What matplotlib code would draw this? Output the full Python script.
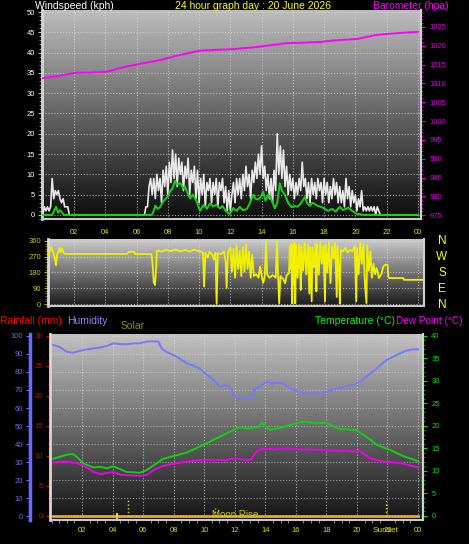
import numpy as np
import matplotlib
matplotlib.use('Agg')
import matplotlib.pyplot as plt
from matplotlib.ticker import MultipleLocator

plt.rcParams['font.family'] = ['Liberation Sans', 'DejaVu Sans']

# ---------------- data ----------------
hour_ticks = [2, 4, 6, 8, 10, 12, 14, 16, 18, 20, 22, 24]
hour_labels = ['02', '04', '06', '08', '10', '12', '14', '16', '18', '20', '22', '00']

# barometer (hPa)
baro_hours = [0, 1, 2.07, 3, 3.66, 4.1, 4.94, 5.5, 6.22, 7.5, 8.5, 10.06, 11, 12.17,
              13.5, 14.5, 15.62, 16.5, 17.73, 18.56, 19.3, 20.1, 21.37, 22.2, 22.84, 24]
baro_vals = [1011.4, 1012.0, 1012.8, 1012.9, 1013.0, 1013.1, 1014.1, 1014.6, 1015.2,
             1016.2, 1017.3, 1018.7, 1018.9, 1019.1, 1019.6, 1020.1, 1020.7, 1020.8,
             1021.0, 1021.4, 1021.6, 1021.8, 1022.9, 1023.2, 1023.4, 1023.7]

# wind gust (kph), every 6 minutes
gust_hours = np.arange(0, 24.05, 0.1)
gust_early = [0, 2, 1, 2, 1, 2, 9, 4, 6, 5, 6, 4, 3, 4, 2, 2, 2]          # 00:00-01:36
gust_quiet = 49                                                          # 01:42-06:30 calm
gust_day = [2, 2, 7, 9,                                                  # 06:36-
            5, 9, 4, 10, 6, 9, 3, 11, 7, 12,
            5, 13, 8, 16, 9, 15, 7, 14, 10, 13,
            6, 12, 9, 14, 5, 11, 8, 12, 4, 11,
            3, 9, 5, 10, 2, 8, 6, 9, 3, 8,
            5, 9, 2, 8, 6, 9, 3, 7, 1, 6,
            1, 5, 8, 3, 9, 5, 9, 4, 10, 6,
            12, 7, 10, 4, 11, 8, 13, 9, 15, 10,
            17, 9, 12, 6, 10, 4, 9, 3, 11, 6,
            20, 10, 17, 9, 16, 7, 12, 5, 10, 6,
            9, 4, 8, 5, 9, 6, 13, 7, 9, 4,
            8, 3, 9, 5, 8, 4, 9, 6, 8, 3,
            9, 5, 8, 3, 7, 4, 9, 5, 8, 3,
            7, 3, 6, 2, 9, 4, 7, 2, 6, 3,
            5, 1, 4, 2, 6, 1, 2, 1, 2, 1,
            2, 1, 2, 0, 2, 1, 0, 0, 0, 0,
            0]
gust_vals = np.concatenate([gust_early, np.zeros(gust_quiet), gust_day,
                            np.zeros(len(gust_hours) - len(gust_early) - gust_quiet - len(gust_day))])

# average wind speed (kph)
avg_hours = [0, 0.6, 0.85, 1.0, 1.1, 1.2, 1.35,
             6.95, 7.05, 7.2, 7.35, 7.5, 7.65, 7.82, 8.0, 8.14, 8.3,
             8.46, 8.6, 8.8, 9.0, 9.1, 9.25, 9.42, 9.6, 9.85, 10.06,
             10.3, 10.5, 10.7, 10.91, 11.1, 11.34, 11.5, 11.7, 11.97, 12.19,
             12.4, 12.6, 12.8, 13.04, 13.2, 13.47, 13.6, 13.79, 13.95, 14.1,
             14.25, 14.43, 14.6, 14.85, 15.0, 15.17, 15.3, 15.49, 15.7, 15.92,
             16.1, 16.3, 16.5, 16.77, 16.9, 17.09, 17.25, 17.41, 17.6, 17.8,
             18.0, 18.26, 18.5, 18.75, 19.0, 19.2, 19.54, 19.8, 20.08, 20.3,
             20.5, 24]
avg_vals = [0, 0, 2.0, 0.5, 1.2, 0.8, 0,
            0, 0.5, 2.3, 1.5, 1.9, 3.0, 3.8, 4.5, 5.8, 6.5,
            8.4, 7.5, 7.8, 6.5, 7.0, 5.5, 4.1, 5.0, 3.3, 1.0,
            2.5, 1.5, 2.8, 2.1, 2.5, 1.6, 2.2, 1.0, 0.2, 1.7,
            1.0, 2.0, 1.2, 1.4, 2.5, 5.0, 4.0, 3.8, 4.5, 5.8,
            3.5, 5.0, 4.0, 1.6, 3.0, 7.8, 6.0, 5.0, 3.0, 1.9,
            2.2, 2.0, 2.8, 4.4, 3.0, 2.2, 3.0, 2.7, 2.2, 2.0,
            1.6, 1.0, 1.5, 0.8, 2.0, 1.2, 1.8, 1.0, 0.3, 0.2,
            0, 0]

# wind direction (degrees)
dir_hours = [0.35, 0.45, 0.55, 0.62, 0.7, 0.8, 0.85, 0.92, 1.0, 1.08, 1.15, 1.25, 1.35, 1.45,
             5.4, 5.5, 5.85, 5.9, 6.95, 7.0, 7.05, 7.1, 7.18, 7.25, 7.3,
             7.6, 7.9, 8.2, 8.5, 8.8, 9.1, 9.4, 9.7, 10.0, 10.25, 10.32, 10.4,
             10.55, 10.65, 10.85, 10.95, 11.05, 11.12, 11.2, 11.4, 11.6, 11.7, 11.76, 11.85,
             12.0, 12.1, 12.2, 12.3, 12.4, 12.5, 12.6, 12.7, 12.8, 12.9, 13.0, 13.1,
             13.2, 13.3, 13.4, 13.5, 13.65, 13.8, 13.9, 14.0, 14.1, 14.2, 14.28, 14.35,
             14.5, 14.7, 14.9, 14.98, 15.05, 15.12, 15.2, 15.4, 15.5, 15.6, 15.75,
             15.8, 15.85, 15.9, 15.95, 16.0, 16.05, 16.1, 16.15, 16.2, 16.3, 16.4, 16.45,
             16.5, 16.55, 16.65, 16.75, 16.85, 16.95, 17.05, 17.1, 17.2, 17.25, 17.35,
             17.45, 17.5, 17.55, 17.65, 17.75, 17.85, 17.95, 18.05, 18.1, 18.2, 18.3,
             18.4, 18.5, 18.6, 18.7, 18.8, 18.85, 18.95, 19.0, 19.05, 19.2, 19.35, 19.5,
             19.65, 19.8, 19.95, 20.05, 20.1, 20.2, 20.3, 20.4, 20.5, 20.6, 20.7, 20.75,
             20.85, 20.95, 21.05, 21.15, 21.25, 21.35, 21.5, 21.65, 21.78, 21.9, 22.05,
             22.1, 22.15, 23.05, 23.1, 24.3]
dir_vals = [280, 300, 325, 305, 290, 250, 222, 280, 300, 320, 295, 315, 290, 286,
            286, 298, 298, 285, 285, 250, 200, 125, 108, 200, 305,
            300, 310, 302, 310, 300, 308, 300, 310, 302, 295, 100, 292,
            265, 300, 280, 255, 292, 2, 290, 285, 300, 240, 92, 300,
            320, 185, 315, 150, 335, 200, 305, 160, 325, 185, 340, 200,
            300, 150, 280, 160, 170, 150, 215, 160, 120, 160, 355, 170,
            150, 165, 150, 355, 160, 3, 160, 140, 118, 165, 175,
            330, 200, 345, 3, 330, 110, 350, 3, 335, 150, 340, 240,
            80, 330, 190, 350, 170, 340, 60, 325, 15, 320, 210,
            350, 72, 340, 167, 355, 230, 330, 15, 340, 180, 355,
            120, 330, 260, 350, 40, 330, 150, 2, 310, 300, 320, 295,
            310, 300, 330, 15, 320, 170, 350, 230, 340, 120, 5, 335,
            190, 300, 150, 230, 170, 205, 148, 170, 214, 224, 224,
            157, 148, 148, 138, 138]

# humidity (%)
hum_hours = [0.1, 0.5, 0.98, 1.4, 2.08, 2.74, 3.2, 3.6, 4.05, 4.5, 4.9, 5.4, 5.8, 6.23,
             6.6, 7.0, 7.2, 7.5, 8.2, 8.85, 9.3, 9.7, 10.1, 10.6, 11.03, 11.3, 11.69,
             12.0, 12.3, 12.56, 12.8, 13.1, 13.3, 13.6, 14.09, 14.5, 14.8, 15.2, 15.4,
             15.83, 16.3, 16.9, 17.57, 18.0, 18.45, 18.9, 19.3, 19.8, 20.2, 20.63, 21.3,
             21.95, 22.6, 23.2, 23.6, 24.0]
hum_vals = [95.0, 94.0, 91.3, 90.7, 92.2, 93.1, 93.6, 94.4, 95.9, 95.5, 95.4, 95.9, 96.0,
            96.9, 97.0, 96.9, 93.1, 91.3, 88.5, 84.8, 83.5, 82.0, 79.0, 75.6, 71.9, 72.5,
            71.9, 66.3, 66.0, 65.4, 65.8, 65.4, 70.9, 71.5, 74.6, 73.7, 74.0, 73.7, 71.9,
            70.0, 69.0, 67.8, 68.3, 69.0, 70.4, 71.0, 72.2, 73.0, 74.6, 77.4, 82.0,
            86.7, 89.4, 91.8, 92.5, 92.6]

# temperature and dew point (C)
temp_hours = [0.1, 0.98, 1.4, 1.7, 2.08, 2.74, 3.2, 3.6, 4.05, 4.5, 4.9, 5.8, 6.23, 6.88,
              7.3, 7.98, 8.85, 9.7, 10.6, 11.25, 11.9, 12.34, 12.78, 13.2, 13.5, 13.8,
              14.3, 15.2, 15.8, 16.5, 17.35, 18.0, 18.9, 19.96, 20.63, 21.3, 22.17, 23.04, 24.0]
temp_vals = [12.7, 13.6, 13.8, 13.0, 11.7, 10.8, 10.9, 10.6, 11.0, 10.4, 9.8, 9.6, 10.2,
             11.7, 12.7, 13.3, 14.1, 15.4, 16.9, 18.0, 19.1, 19.8, 19.4, 19.6, 19.8, 20.7,
             19.1, 19.8, 20.4, 21.0, 20.6, 20.7, 19.3, 19.1, 17.6, 15.8, 14.7, 13.3, 12.2]
dew_hours = [0.1, 0.98, 1.6, 2.08, 2.74, 3.2, 4.05, 4.5, 4.9, 5.8, 6.23, 6.88, 7.5, 7.98,
             8.85, 9.7, 10.6, 11.47, 11.7, 12.34, 12.8, 13.1, 13.4, 13.8, 14.5, 15.4,
             16.2, 17.6, 18.45, 19.3, 19.96, 20.2, 20.85, 21.74, 22.8, 24.0]
dew_vals = [11.9, 12.1, 11.8, 11.3, 9.8, 9.3, 9.8, 9.2, 9.1, 8.9, 9.1, 10.6, 11.3, 11.6,
            12.1, 12.4, 12.5, 12.4, 12.7, 12.7, 12.4, 12.6, 14.3, 15.0, 14.8, 15.0,
            14.8, 14.7, 14.5, 14.5, 14.3, 14.5, 12.8, 12.1, 11.8, 10.8]

# rainfall (mm)
rain_hours = [0.1, 24.0]
rain_vals = [0, 0]

# sun / moon events
sun_hours = [5.03, 21.9]
moon_hours = [10.7]
solar_tick_hours = [4.27]

# ---------------- figure ----------------
W, H = 469, 544
fig = plt.figure(figsize=(W / 100, H / 100), dpi=100, facecolor='black')


def box(x0, y0, x1, y1):
    return [x0 / W, 1 - y1 / H, (x1 - x0) / W, (y1 - y0) / H]


def shade(ax, top, bottom):
    grad = np.linspace(top, bottom, 256).reshape(-1, 1)
    ax.imshow(grad, cmap='gray', vmin=0, vmax=1, aspect='auto', extent=[0, 1, 0, 1],
              transform=ax.transAxes, zorder=0, interpolation='bilinear')


def label(x, y, s, color, size=7.5, ha='left'):
    fig.text(x / W, 1 - y / H, s, color=color, fontsize=size, ha=ha, va='center')


def frame(ax):
    ax.set_facecolor('black')
    ax.spines['top'].set_visible(False)
    ax.spines['left'].set_color('#d8d8d8')
    ax.spines['left'].set_linewidth(2)
    ax.spines['bottom'].set_color('#c8c8c8')
    ax.spines['bottom'].set_linewidth(1.5)
    ax.spines['right'].set_color('#d0d0d0')
    ax.spines['right'].set_linewidth(1.5)
    ax.grid(True, which='major', color='#dcdcdc', ls=':', lw=0.8, alpha=0.7)


# ---- top: wind speed + barometer ----
ax1 = fig.add_axes(box(42, 10, 421, 219))
frame(ax1)
shade(ax1, 0.74, 0.05)
ax1.plot(gust_hours, gust_vals, color='#e8e8e8', lw=1.2, zorder=3)
ax1.plot(avg_hours, avg_vals, color='#14d214', lw=1.4, zorder=4)
ax1.set_xlim(-0.05, 24.2)
ax1.set_ylim(-1, 50.5)
ax1.set_xticks(hour_ticks)
ax1.set_xticklabels(hour_labels)
ax1.yaxis.set_major_locator(MultipleLocator(5))
ax1.yaxis.set_minor_locator(MultipleLocator(1))
ax1.tick_params(axis='x', colors='#e0e000', length=0, pad=7, labelsize=5.5)
ax1.tick_params(axis='y', which='major', colors='#b0b0b0', labelcolor='white',
                length=3, pad=2, labelsize=5.5)
ax1.tick_params(axis='y', which='minor', colors='#909090', length=2)

ax1b = ax1.twinx()
for side in ['left', 'top', 'bottom']:
    ax1b.spines[side].set_visible(False)
ax1b.spines['right'].set_color('#d0d0d0')
ax1b.spines['right'].set_linewidth(1.5)
ax1b.plot(baro_hours, baro_vals, color='#ff00ff', lw=1.4, zorder=5)
ax1b.set_ylim(974, 1029.5)
ax1b.yaxis.set_major_locator(MultipleLocator(5))
ax1b.yaxis.set_minor_locator(MultipleLocator(1))
ax1b.tick_params(axis='y', which='major', colors='#e000e0', length=3, pad=3, labelsize=5.5)
ax1b.tick_params(axis='y', which='minor', colors='#c000c0', length=1.5)

# ---- middle: wind direction ----
ax2 = fig.add_axes(box(48, 239, 424, 306))
frame(ax2)
shade(ax2, 0.8, 0.1)
ax2.plot(dir_hours, dir_vals, color='#f0f000', lw=1.3, zorder=3)
ax2.set_xlim(0.34, 24.38)
ax2.set_ylim(-11.4, 371)
ax2.set_xticks(hour_ticks)
ax2.tick_params(axis='x', length=0, labelbottom=False)
ax2.set_yticks([0, 90, 180, 270, 360])
ax2.yaxis.set_minor_locator(MultipleLocator(15))
ax2.tick_params(axis='y', which='major', colors='#b0b000', labelcolor='#c8c800',
                length=3, pad=2, labelsize=5.5)
ax2.tick_params(axis='y', which='minor', colors='#909000', length=2)
for i, s in enumerate(['N', 'W', 'S', 'E', 'N']):
    label(442, 241 + i * 16, s, '#ffff00', size=8.5, ha='center')

# ---- bottom: rain / humidity / temperature ----
ax3 = fig.add_axes(box(50, 334, 423, 520))
frame(ax3)
ax3.grid(False)
ax3.grid(True, axis='x', color='#dcdcdc', ls=':', lw=0.8, alpha=0.7)
shade(ax3, 0.76, 0.08)
ax3.plot(rain_hours, rain_vals, color='#ff9c00', lw=2, zorder=4)
ax3.vlines(sun_hours, -0.6, 2.8, colors='#e0e000', linestyles=':', lw=1, zorder=4)
ax3.vlines(moon_hours, -0.6, 1.3, colors='#e0e000', linestyles=':', lw=1, zorder=4)
ax3.vlines(solar_tick_hours, -0.67, 0.5, colors='#e0e000', lw=1.5, zorder=4)
ax3.text(moon_hours[0] - 0.2, 0.2, 'Moon Rise', color='#c8c800', fontsize=7,
         ha='left', va='center', zorder=6)
ax3.set_xlim(-0.1, 24.33)
ax3.set_ylim(-0.67, 30.33)
ax3.set_xticks(hour_ticks)
ax3.set_xticklabels(hour_labels)
ax3.xaxis.set_minor_locator(MultipleLocator(0.5))
ax3.tick_params(axis='x', which='major', colors='#e0e000', length=0, pad=5, labelsize=5.5)
ax3.tick_params(axis='x', which='minor', colors='#a0a0a0', length=2)
ax3.yaxis.set_major_locator(MultipleLocator(5))
ax3.yaxis.set_minor_locator(MultipleLocator(1))
ax3.tick_params(axis='y', which='major', colors='#e00000', length=3, pad=2, labelsize=5.5)
ax3.tick_params(axis='y', which='minor', colors='#b00000', length=1.5)
ax3.text(sun_hours[1], -0.054, 'Sunset', transform=ax3.get_xaxis_transform(),
         color='#e0e000', fontsize=6, ha='center', va='center')

ax3h = ax3.twinx()
for side in ['right', 'top', 'bottom']:
    ax3h.spines[side].set_visible(False)
ax3h.yaxis.set_ticks_position('left')
ax3h.spines['left'].set_position(('outward', 14.4))
ax3h.spines['left'].set_color('#6a6aff')
ax3h.spines['left'].set_linewidth(2.5)
ax3h.plot(hum_hours, hum_vals, color='#7878ff', lw=1.4, zorder=3)
ax3h.set_ylim(-2.2, 101.1)
ax3h.yaxis.set_major_locator(MultipleLocator(10))
ax3h.yaxis.set_minor_locator(MultipleLocator(2))
ax3h.grid(True, axis='y', color='#dcdcdc', ls=':', lw=0.8, alpha=0.6)
ax3h.tick_params(axis='y', which='major', colors='#6a6aff', length=3, pad=2, labelsize=5.5)
ax3h.tick_params(axis='y', which='minor', colors='#5050e0', length=1.5)

ax3t = ax3.twinx()
for side in ['left', 'top', 'bottom']:
    ax3t.spines[side].set_visible(False)
ax3t.spines['right'].set_color('#d0d0d0')
ax3t.spines['right'].set_linewidth(1.5)
ax3t.plot(temp_hours, temp_vals, color='#10d010', lw=1.4, zorder=4)
ax3t.plot(dew_hours, dew_vals, color='#ee00ee', lw=1.4, zorder=4)
ax3t.set_ylim(-0.89, 40.44)
ax3t.yaxis.set_major_locator(MultipleLocator(5))
ax3t.yaxis.set_minor_locator(MultipleLocator(1))
ax3t.tick_params(axis='y', which='major', colors='#00e000', length=3, pad=3, labelsize=5.5)
ax3t.tick_params(axis='y', which='minor', colors='#00b000', length=1.5)

# ---- titles / legend texts ----
label(35, 6, 'Windspeed (kph)', 'white')
label(253, 6, '24 hour graph day : 20 June 2026', '#ffff00', ha='center')
label(373, 6, 'Barometer (hpa)', '#ff00ff')
label(0, 321, 'Rainfall (mm)', '#ff0000')
label(67, 321, 'Humidity', '#8888ff')
label(121, 326, 'Solar', '#8c8c00')
label(315, 321, 'Temperature (°C)', '#00ff00')
label(396, 321, 'Dew Point (°C)', '#ff00ff', size=7.2)

fig.savefig('out.png', dpi=100, facecolor='black')
